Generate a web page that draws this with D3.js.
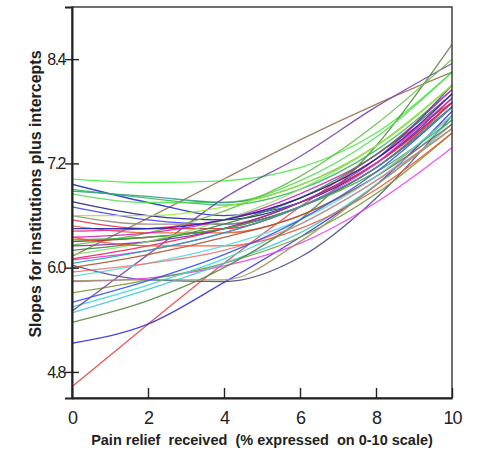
<!DOCTYPE html>
<html>
<head>
<meta charset="utf-8">
<script src="https://cdn.jsdelivr.net/npm/d3@7"></script>
<style>
  html, body { margin: 0; padding: 0; background: #fff; }
  svg { display: block; font-family: "Liberation Sans", Arial, sans-serif; }
</style>
</head>
<body>
<svg id="chart" width="480" height="450"></svg>
<script>
const xPoints = [0, 2, 4, 6, 8, 10]
const xTicks = [0, 2, 4, 6, 8, 10]
const yTicks = [4.8, 6.0, 7.2, 8.4]

// one colour per institution
const lineColors = [
  '#44ee44', '#997055', '#ee4444', '#3333dd', '#4a4a8a', '#ee44ee', '#779933', '#33dddd',
  '#44c8d0', '#5a8a44', '#2233cc', '#33bb55', '#55dd55', '#222277', '#4444ee', '#339988',
  '#7744aa', '#66bb44', '#998877', '#dd3344', '#dd6633', '#ee3388', '#cc22cc', '#aa2233',
  '#ee2255', '#dd33dd', '#338844', '#7733aa', '#44aa44', '#88dd66', '#aa5533', '#ee5533',
  '#55dddd', '#ee7777', '#999966', '#3355ee', '#22aaaa', '#99ee33', '#2222aa'
]

// fitted value for each institution at xPoints
const lineValues = [
  [7.02, 6.98, 7.00, 7.15, 7.55, 8.25],
  [6.13, 6.57, 7.02, 7.47, 7.88, 8.25],
  [4.63, 5.35, 6.05, 6.70, 7.30, 7.90],
  [5.13, 5.35, 5.83, 6.35, 6.95, 7.80],
  [6.03, 5.86, 5.84, 6.12, 6.80, 7.75],
  [5.84, 5.88, 6.02, 6.28, 6.75, 7.38],
  [5.71, 5.86, 6.05, 6.35, 6.85, 7.55],
  [5.55, 5.80, 6.10, 6.50, 7.00, 7.70],
  [5.48, 5.75, 6.05, 6.40, 6.95, 7.65],
  [5.37, 5.62, 6.00, 6.55, 7.40, 8.57],
  [6.96, 6.75, 6.60, 6.75, 7.20, 7.95],
  [6.90, 6.80, 6.72, 6.90, 7.35, 8.05],
  [6.85, 6.75, 6.75, 7.00, 7.50, 8.25],
  [6.76, 6.60, 6.55, 6.75, 7.20, 7.90],
  [6.70, 6.55, 6.50, 6.70, 7.15, 7.85],
  [6.88, 6.82, 6.75, 6.95, 7.40, 8.10],
  [5.50, 6.15, 6.80, 7.28, 7.85, 8.35],
  [6.26, 6.40, 6.65, 7.05, 7.65, 8.40],
  [6.60, 6.50, 6.50, 6.75, 7.20, 7.85],
  [6.55, 6.45, 6.45, 6.70, 7.15, 7.90],
  [6.48, 6.40, 6.40, 6.60, 7.05, 7.75],
  [6.42, 6.45, 6.55, 6.80, 7.25, 7.95],
  [6.35, 6.40, 6.55, 6.85, 7.30, 8.05],
  [6.30, 6.35, 6.45, 6.70, 7.15, 7.85],
  [6.10, 6.25, 6.45, 6.75, 7.20, 7.90],
  [6.09, 6.20, 6.40, 6.70, 7.20, 8.00],
  [6.20, 6.30, 6.50, 6.80, 7.30, 8.00],
  [6.25, 6.30, 6.45, 6.75, 7.25, 8.10],
  [6.32, 6.35, 6.45, 6.70, 7.10, 7.70],
  [6.15, 6.30, 6.55, 6.90, 7.40, 8.10],
  [6.00, 6.15, 6.35, 6.60, 7.05, 7.65],
  [6.35, 6.25, 6.25, 6.45, 6.90, 7.55],
  [5.90, 6.05, 6.25, 6.55, 7.05, 7.75],
  [5.95, 6.05, 6.20, 6.50, 7.00, 7.60],
  [5.85, 5.86, 5.86, 6.30, 6.95, 7.60],
  [5.60, 5.85, 6.15, 6.55, 7.10, 7.85],
  [6.05, 6.20, 6.40, 6.70, 7.15, 7.85],
  [6.60, 6.60, 6.70, 6.95, 7.40, 8.10],
  [6.45, 6.45, 6.55, 6.80, 7.25, 8.00]
]

const margin = { left: 72, right: 28, top: 7, bottom: 52 }
const width = 480
const height = 450
const innerW = width - margin.left - margin.right
const innerH = height - margin.top - margin.bottom

const svg = d3.select('#chart')
const g = svg.append('g').attr('transform', `translate(${margin.left},${margin.top})`)

const x = d3.scaleLinear().domain([0, 10]).range([0, innerW])
const y = d3.scaleLinear().domain([4.5, 9.0]).range([innerH, 0])

// curves
const line = d3.line()
  .x((d, i) => x(xPoints[i]))
  .y(d => y(d))
  .curve(d3.curveMonotoneX)

g.selectAll('.inst')
  .data(lineValues)
  .enter().append('path')
  .attr('class', 'inst')
  .attr('fill', 'none')
  .attr('stroke', (d, i) => lineColors[i % lineColors.length])
  .attr('stroke-width', 1.3)
  .attr('stroke-opacity', 0.9)
  .attr('d', line)

// frame
g.append('rect')
  .attr('width', innerW)
  .attr('height', innerH)
  .attr('fill', 'none')
  .attr('stroke', '#333')
  .attr('stroke-width', 1.4)

// x axis
const xAxis = d3.axisBottom(x).tickValues(xTicks).tickSize(0).tickPadding(13).tickFormat(d3.format('d'))
const gx = g.append('g').attr('transform', `translate(0,${innerH})`).call(xAxis)
gx.select('.domain').attr('stroke', '#222').attr('stroke-width', 2)
gx.selectAll('.tick text').attr('font-size', 18).attr('fill', '#222').attr('letter-spacing', -1)
gx.selectAll('.tick').append('line')
  .attr('y1', 0).attr('y2', -10)
  .attr('stroke', '#222').attr('stroke-width', 1.4)

// y axis
const yAxis = d3.axisLeft(y).tickValues(yTicks).tickSize(7).tickPadding(0).tickFormat(d3.format('.1f'))
const gy = g.append('g').call(yAxis)
gy.select('.domain').attr('stroke', '#222').attr('stroke-width', 2)
gy.selectAll('.tick line').attr('x2', -7).attr('x1', 7).attr('stroke', '#222').attr('stroke-width', 1.4)
gy.selectAll('.tick text').attr('font-size', 16).attr('fill', '#222').attr('letter-spacing', -1.5)

// axis titles
svg.append('text')
  .attr('transform', `translate(41,194) rotate(-90)`)
  .attr('text-anchor', 'middle')
  .attr('font-size', 16)
  .attr('font-weight', 'bold')
  .attr('fill', '#222')
  .text('Slopes for institutions plus intercepts')

svg.append('text')
  .attr('x', 262)
  .attr('y', 445)
  .attr('text-anchor', 'middle')
  .attr('font-size', 14.5)
  .attr('font-weight', 'bold')
  .attr('fill', '#222')
  .style('white-space', 'pre')
  .text('Pain relief  received  (% expressed  on 0-10 scale)')
</script>
</body>
</html>
